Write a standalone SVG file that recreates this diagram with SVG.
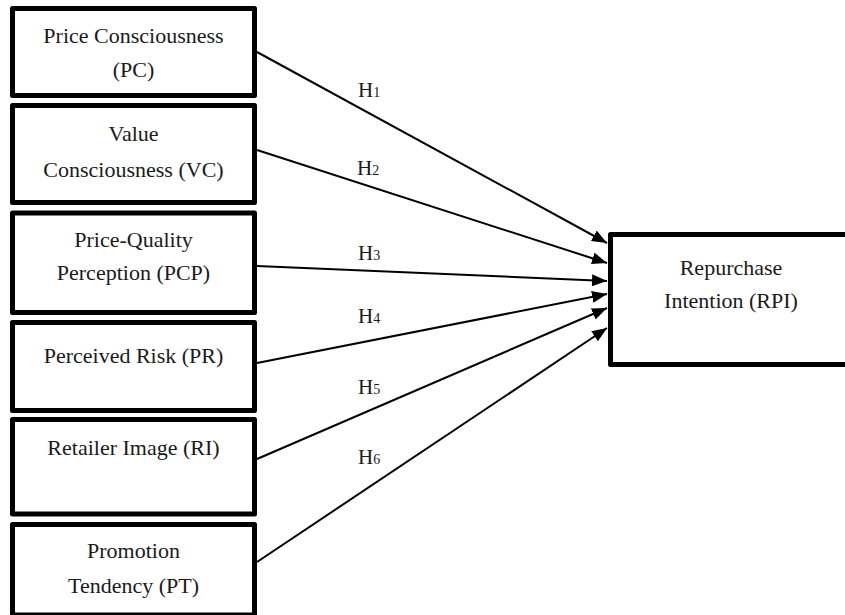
<svg xmlns="http://www.w3.org/2000/svg" width="845" height="615" viewBox="0 0 845 615">
  <defs>
    <style>
      .box { fill: #ffffff; stroke: #000000; stroke-width: 5; stroke-linejoin: round; }
      .lbl { font-family: "Liberation Serif", "Times New Roman", serif; font-size: 22px; fill: #1a1a1a; text-anchor: middle; }
      .hyp { font-family: "Liberation Serif", "Times New Roman", serif; font-size: 21px; fill: #1a1a1a; }
      .sub { font-size: 14px; }
      .edge { stroke: #000000; stroke-width: 2; fill: none; marker-end: url(#arrow); }
    </style>
    <marker id="arrow" markerUnits="userSpaceOnUse" markerWidth="15" markerHeight="12" refX="15" refY="6" orient="auto">
      <path d="M0,0 L15,6 L0,12 z" fill="#000000"/>
    </marker>
  </defs>

  <rect width="845" height="615" fill="#ffffff"/>

  <!-- Connectors: each antecedent points to repurchase intention -->
  <g id="connectors">
    <line class="edge" x1="257" y1="52" x2="607" y2="243"/>
    <line class="edge" x1="257" y1="150" x2="607" y2="263"/>
    <line class="edge" x1="257" y1="266" x2="607" y2="281"/>
    <line class="edge" x1="257" y1="363" x2="607" y2="294"/>
    <line class="edge" x1="257" y1="459" x2="607" y2="308"/>
    <line class="edge" x1="257" y1="562" x2="607" y2="328"/>
    <text class="hyp" x="358" y="97">H<tspan class="sub">1</tspan></text>
    <text class="hyp" x="357" y="175">H<tspan class="sub">2</tspan></text>
    <text class="hyp" x="358" y="260">H<tspan class="sub">3</tspan></text>
    <text class="hyp" x="358" y="323">H<tspan class="sub">4</tspan></text>
    <text class="hyp" x="358" y="394">H<tspan class="sub">5</tspan></text>
    <text class="hyp" x="358" y="464">H<tspan class="sub">6</tspan></text>
  </g>

  <g id="node-pc">
    <rect class="box" x="12.5" y="8.5" width="242" height="87"/>
    <text class="lbl" x="133.5" y="43">Price Consciousness</text>
    <text class="lbl" x="133.5" y="77">(PC)</text>
  </g>

  <g id="node-vc">
    <rect class="box" x="12.5" y="105.5" width="242" height="97"/>
    <text class="lbl" x="133.5" y="141">Value</text>
    <text class="lbl" x="133.5" y="177">Consciousness (VC)</text>
  </g>

  <g id="node-pcp">
    <rect class="box" x="12.5" y="213" width="242" height="99.5"/>
    <text class="lbl" x="133.5" y="247">Price-Quality</text>
    <text class="lbl" x="133.5" y="280">Perception (PCP)</text>
  </g>

  <g id="node-pr">
    <rect class="box" x="12.5" y="322.5" width="242" height="88"/>
    <text class="lbl" x="133.5" y="363">Perceived Risk (PR)</text>
  </g>

  <g id="node-ri">
    <rect class="box" x="12.5" y="419.5" width="242" height="94.5"/>
    <text class="lbl" x="133.5" y="455">Retailer Image (RI)</text>
  </g>

  <g id="node-pt">
    <rect class="box" x="12.5" y="524.5" width="242" height="90.5"/>
    <text class="lbl" x="133.5" y="558">Promotion</text>
    <text class="lbl" x="133.5" y="593">Tendency (PT)</text>
  </g>

  <g id="node-rpi">
    <rect class="box" x="610.5" y="234.5" width="240" height="130"/>
    <text class="lbl" x="731" y="275">Repurchase</text>
    <text class="lbl" x="731" y="308">Intention (RPI)</text>
  </g>
</svg>
